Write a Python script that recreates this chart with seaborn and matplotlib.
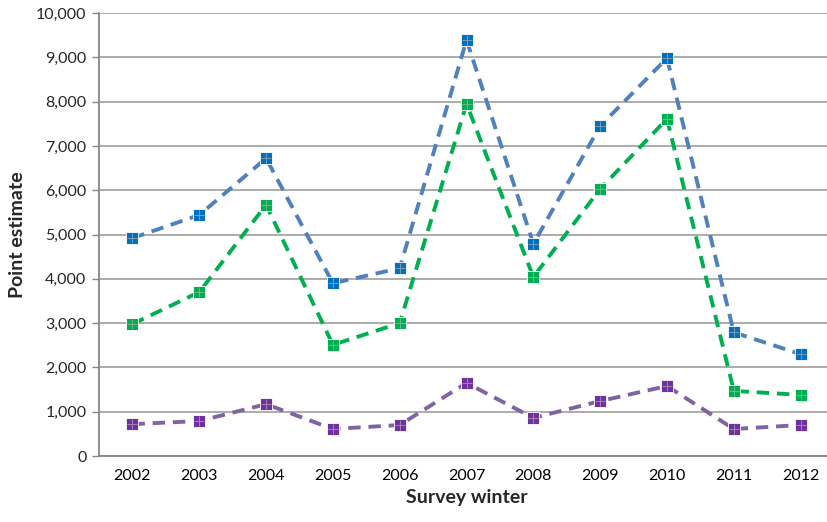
import numpy as np
import pandas as pd
import matplotlib
matplotlib.use("Agg")
import matplotlib.pyplot as plt
import seaborn as sns

# --- DATA ---
years = ["2002", "2003", "2004", "2005", "2006", "2007", "2008", "2009", "2010", "2011", "2012"]
series_blue = [4920, 5440, 6720, 3900, 4240, 9390, 4790, 7450, 8980, 2790, 2300]
series_green = [2980, 3700, 5670, 2510, 3000, 7950, 4040, 6030, 7610, 1470, 1380]
series_purple = [720, 790, 1170, 610, 700, 1650, 860, 1240, 1580, 610, 700]

series = [
    ("blue", series_blue, "#4F81BD", "#0070C0"),
    ("green", series_green, "#00B050", "#00B050"),
    ("purple", series_purple, "#8064A2", "#7030A0"),
]


def make_plot():
    sns.set_theme(style="white")
    plt.rcParams["font.family"] = ["Lato", "DejaVu Sans"]

    fig = plt.figure(figsize=(8.28, 5.22), dpi=100)
    ax = fig.add_axes([0.1196, 0.1264, 0.8877, 0.8487])

    x = np.arange(len(years))
    for name, vals, line_col, mark_col in series:
        df = pd.DataFrame({"x": x, "y": vals})
        sns.lineplot(data=df, x="x", y="y", ax=ax, color=line_col,
                     linewidth=2.8, linestyle=(0, (3.2, 2.0)), zorder=3)
        sns.scatterplot(data=df, x="x", y="y", ax=ax, marker="s", s=80,
                        color=mark_col, edgecolor="white", linewidth=0.6, zorder=4)
        sns.scatterplot(data=df, x="x", y="y", ax=ax, marker="+", s=55,
                        color="#B0B0B0", linewidth=0.7, zorder=5, alpha=0.7)

    ax.set_xlim(-0.5, len(years) - 0.5)
    ax.set_ylim(0, 10000)
    ax.set_yticks(np.arange(0, 10001, 1000))
    ax.set_yticklabels([f"{v:,}" for v in range(0, 10001, 1000)], fontsize=11.5)
    ax.set_xticks(x)
    ax.set_xticklabels(years, fontsize=11.5)
    ax.set_xticks(np.arange(-0.5, len(years)), minor=True)

    ax.grid(True, axis="y", color="#A6A6A6", linewidth=1.3)
    ax.set_axisbelow(True)

    for side in ["top", "right"]:
        ax.spines[side].set_visible(False)
    for side in ["left", "bottom"]:
        ax.spines[side].set_color("#868686")
        ax.spines[side].set_linewidth(1.3)

    ax.tick_params(axis="x", which="major", length=0, pad=9, colors="black")
    ax.tick_params(axis="x", which="minor", length=5, width=1, color="#868686", direction="out")
    ax.tick_params(axis="y", length=5, width=1, color="#868686", direction="out", pad=4, left=True)

    ax.set_xlabel("Survey winter", fontsize=14, fontweight="bold", labelpad=5)
    ax.set_ylabel("Point estimate", fontsize=14, fontweight="bold", labelpad=7)

    fig.savefig("out.png", dpi=100)


if __name__ == "__main__":
    make_plot()
